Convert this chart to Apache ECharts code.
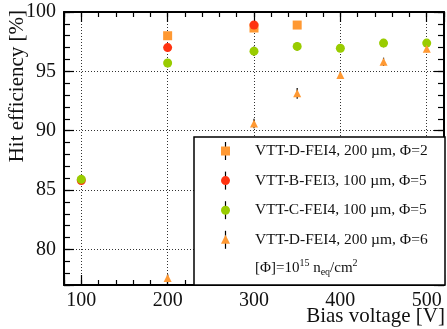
<!DOCTYPE html>
<html>
<head>
<meta charset="utf-8">
<script src="https://cdn.jsdelivr.net/npm/echarts@6/dist/echarts.min.js"></script>
<style>
  html, body { margin: 0; padding: 0; background: #fff; }
  #chart { width: 447px; height: 329px; }
</style>
</head>
<body>
<div id="chart"></div>
<script>
// data: [bias voltage V, efficiency %]
const seriesNames = [
  'VTT-D-FEI4, 200 µm, Φ=2',
  'VTT-B-FEI3, 100 µm, Φ=5',
  'VTT-C-FEI4, 100 µm, Φ=5',
  'VTT-D-FEI4, 200 µm, Φ=6'
]
const dFei4Phi2 = [[200, 98.0], [300, 98.65], [350, 98.9]]
const bFei3Phi5 = [[100, 85.8], [200, 97.0], [300, 98.9]]
const cFei4Phi5 = [[100, 85.9], [200, 95.7], [300, 96.7], [350, 97.1], [400, 96.95], [450, 97.38], [500, 97.38]]
const dFei4Phi6 = [[200, 77.6], [300, 90.6], [350, 93.15], [400, 94.7], [450, 95.8], [500, 96.9]]
// symmetric errors (%)
const dFei4Phi2Err = [0.3, 0.3, 0.3]
const bFei3Phi5Err = [0.3, 0.3, 0.3]
const cFei4Phi5Err = [0.3, 0.35, 0.4, 0.35, 0.3, 0.35, 0.35]
const dFei4Phi6Err = [0.3, 0.4, 0.45, 0.3, 0.35, 0.3]
const xTicks = [100, 200, 300, 400, 500]
const yTicks = [80, 85, 90, 95, 100]

const colors = ['#ff9933', '#ff3311', '#99cc00', '#ff9933']
const symbols = ['rect', 'circle', 'circle', 'triangle']
const symbolSizes = [9, 9, 9, 8]
const allData = [dFei4Phi2, bFei3Phi5, cFei4Phi5, dFei4Phi6]
const allErr = [dFei4Phi2Err, bFei3Phi5Err, cFei4Phi5Err, dFei4Phi6Err]

const serif = '"Liberation Serif", "DejaVu Serif", serif'
const chart = echarts.init(document.getElementById('chart'))

const grid = { left: 64, top: 12, right: 2, bottom: 44 }

const majorX = (pos, show) => ({
  type: 'value', min: 80, max: 520, splitNumber: 5, position: pos,
  axisLine: { show: true, onZero: false, lineStyle: { color: '#000', width: 2 } },
  axisTick: { show: true, inside: true, length: 10, lineStyle: { color: '#000', width: 1.2 } },
  axisLabel: {
    show: show, color: '#111', fontFamily: serif, fontSize: 20, margin: 6,
    formatter: v => (xTicks.includes(v) ? String(v) : '')
  },
  splitLine: { show: show, lineStyle: { color: '#333', type: [1, 2], width: 1 } }
})
const minorX = pos => ({
  type: 'value', min: 80, max: 520, interval: 20, position: pos,
  axisLine: { show: false },
  axisTick: { show: true, inside: true, length: 5, lineStyle: { color: '#000', width: 1.2 } },
  axisLabel: { show: false },
  splitLine: { show: false }
})
const majorY = (pos, show) => ({
  type: 'value', min: 77, max: 100, splitNumber: 5, position: pos,
  axisLine: { show: true, onZero: false, lineStyle: { color: '#000', width: 2 } },
  axisTick: { show: true, inside: true, length: 10, lineStyle: { color: '#000', width: 1.2 } },
  axisLabel: {
    show: show, color: '#111', fontFamily: serif, fontSize: 20, margin: 8,
    formatter: v => (yTicks.includes(v) ? String(v) : '')
  },
  splitLine: { show: show, lineStyle: { color: '#333', type: [1, 2], width: 1 } }
})
const minorY = pos => ({
  type: 'value', min: 77, max: 100, interval: 1, position: pos,
  axisLine: { show: false },
  axisTick: { show: true, inside: true, length: 6, lineStyle: { color: '#000', width: 1.2 } },
  axisLabel: { show: false },
  splitLine: { show: false }
})

// error bars drawn as a custom series under the markers
const errorSeries = allData.map((data, i) => ({
  type: 'custom',
  xAxisIndex: 0,
  yAxisIndex: 0,
  z: 2,
  data: data.map((d, j) => [d[0], d[1] - allErr[i][j], d[1] + allErr[i][j]]),
  renderItem: (params, api) => {
    const lo = api.coord([api.value(0), api.value(1)])
    const hi = api.coord([api.value(0), api.value(2)])
    return {
      type: 'line',
      shape: { x1: lo[0], y1: lo[1], x2: hi[0], y2: hi[1] },
      style: { stroke: '#000', lineWidth: 1.2 }
    }
  },
  silent: true
}))

const markerSeries = allData.map((data, i) => ({
  name: seriesNames[i],
  type: 'scatter',
  xAxisIndex: 0,
  yAxisIndex: 0,
  z: 3,
  data: data,
  symbol: symbols[i],
  symbolSize: symbolSizes[i],
  itemStyle: { color: colors[i], opacity: 1 }
}))

// legend box (drawn by hand so the black error bar goes through each icon)
const boxL = 194, boxT = 137, boxR = 445, boxB = 285
const legendItems = []
legendItems.push({
  type: 'rect', shape: { x: boxL, y: boxT, width: boxR - boxL, height: boxB - boxT },
  style: { fill: '#fff', stroke: '#000', lineWidth: 1.5 }, z: 10
})
seriesNames.forEach((name, i) => {
  const cy = 151 + i * 29.6
  legendItems.push({
    type: 'line', shape: { x1: 225.5, y1: cy - 9, x2: 225.5, y2: cy + 9 },
    style: { stroke: '#000', lineWidth: 1.2 }, z: 11
  })
  if (symbols[i] === 'rect') {
    legendItems.push({ type: 'rect', shape: { x: 221, y: cy - 4.5, width: 9, height: 9 }, style: { fill: colors[i] }, z: 12 })
  } else if (symbols[i] === 'circle') {
    legendItems.push({ type: 'circle', shape: { cx: 225.5, cy: cy, r: 4.5 }, style: { fill: colors[i] }, z: 12 })
  } else {
    legendItems.push({ type: 'polygon', shape: { points: [[225.5, cy - 5], [230, cy + 4], [221, cy + 4]] }, style: { fill: colors[i] }, z: 12 })
  }
  legendItems.push({
    type: 'text', x: 255, y: cy, z: 12,
    style: { text: name, font: '15.5px ' + serif, fill: '#111', textVerticalAlign: 'middle' }
  })
})
legendItems.push({
  type: 'text', x: 255, y: 268, z: 12,
  style: {
    text: '[Φ]=10{sup|15} n{sub|eq}/cm{sup|2}',
    font: '15px ' + serif, fill: '#111', textVerticalAlign: 'middle',
    rich: {
      sup: { fontSize: 10, fontFamily: serif, fill: '#111', padding: [0, 0, 9, 0] },
      sub: { fontSize: 10, fontFamily: serif, fill: '#111', padding: [8, 0, 0, 0] }
    }
  }
})

const option = {
  animation: false,
  grid: grid,
  xAxis: [majorX('bottom', true), minorX('bottom'), majorX('top', false), minorX('top')],
  yAxis: [majorY('left', true), minorY('left'), majorY('right', false), minorY('right')],
  series: [...errorSeries, ...markerSeries],
  graphic: [
    ...legendItems,
    {
      type: 'text', right: 2, top: 306,
      style: { text: 'Bias voltage [V]', font: '21px ' + serif, fill: '#111' }
    },
    {
      type: 'text', x: 7, y: 10, rotation: Math.PI / 2,
      style: { text: 'Hit efficiency [%]', font: '21px ' + serif, fill: '#111', textAlign: 'right', textVerticalAlign: 'top' }
    }
  ]
}

chart.setOption(option)
</script>
</body>
</html>
